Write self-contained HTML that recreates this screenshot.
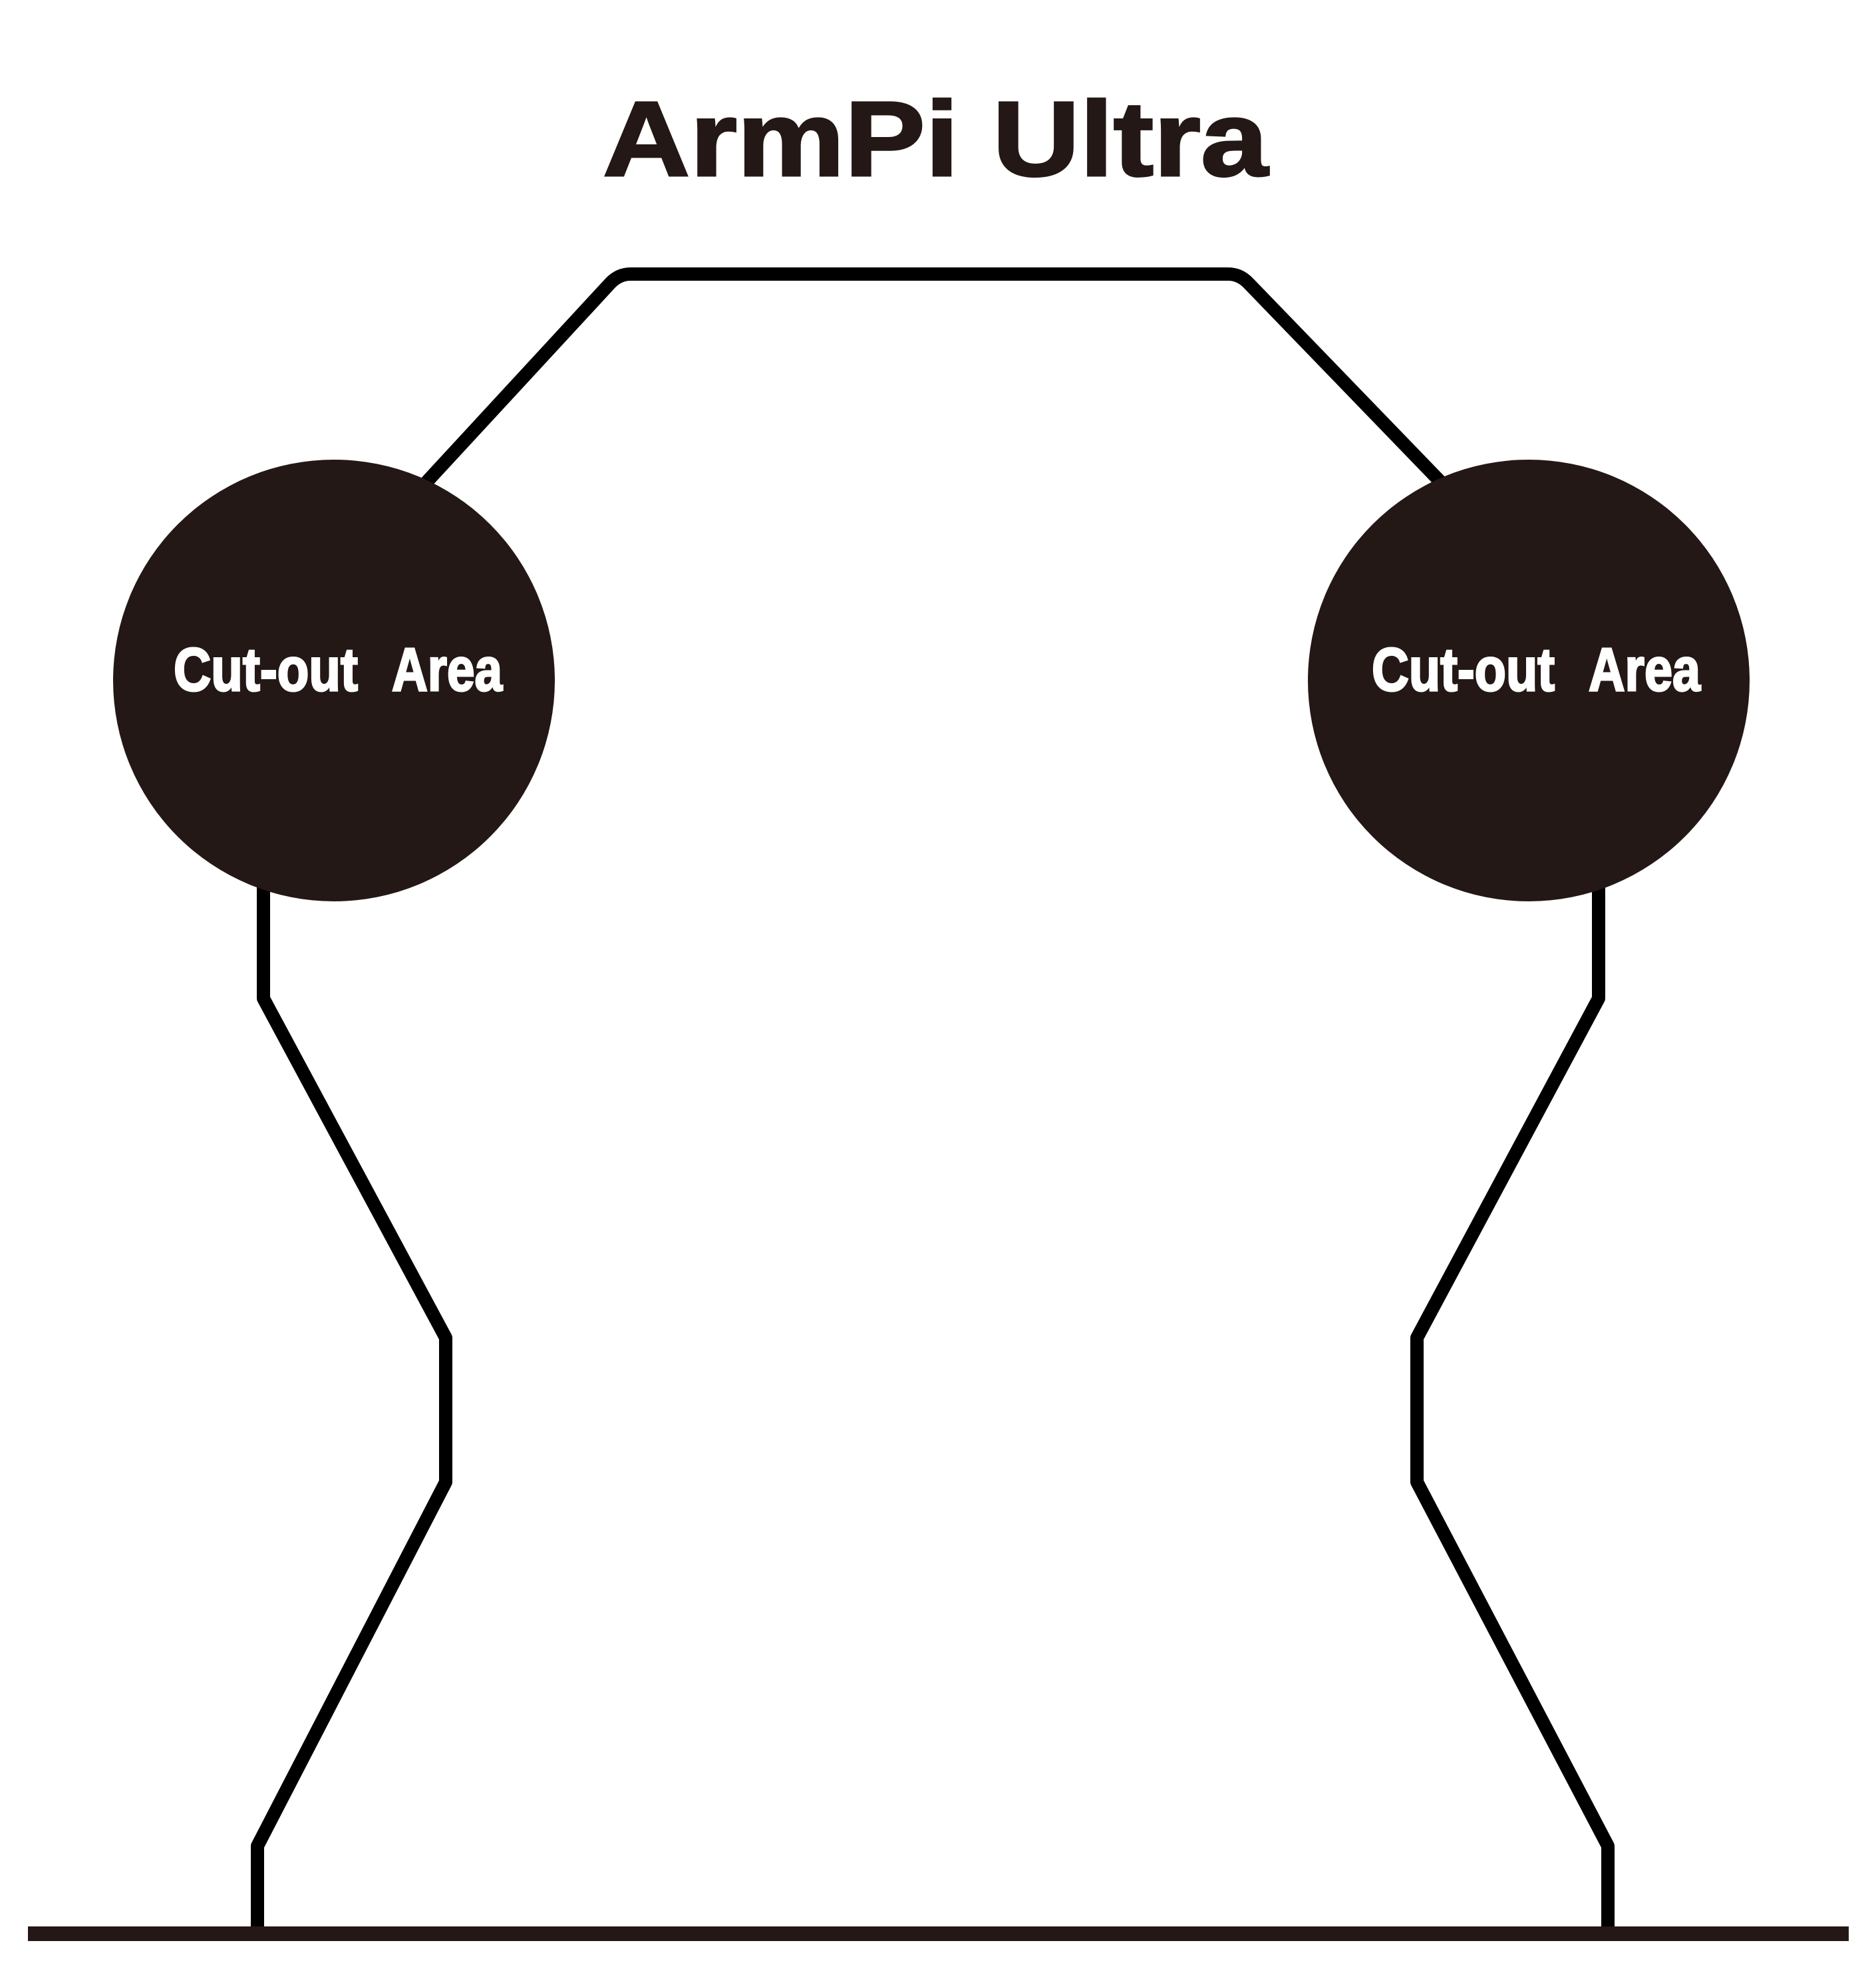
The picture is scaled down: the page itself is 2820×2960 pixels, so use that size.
<!DOCTYPE html>
<html><head><meta charset="utf-8"><style>
html,body{margin:0;padding:0;background:#fff;}
svg{display:block;}
</style></head><body>
<svg width="2820" height="2960" viewBox="0 0 2820 2960" xmlns="http://www.w3.org/2000/svg">
<rect width="2820" height="2960" fill="#fff"/>
<text x="1406" y="264" text-anchor="middle" font-family="Liberation Sans, sans-serif" font-weight="bold" font-size="160" fill="#231815" stroke="#231815" stroke-width="3" textLength="1000" lengthAdjust="spacingAndGlyphs">ArmPi Ultra</text>
<g fill="none" stroke="#000" stroke-width="20" stroke-linejoin="round" stroke-linecap="round">
<path d="M1400 412 L948 412 Q930 412 917 426 L640 726"/>
<path d="M1400 412 L1846 412 Q1864 412 1877 426 L2167 726"/>
<path d="M396 1300 L396 1501 L670 2011 L670 2228 L387 2775 L387 2907"/>
<path d="M2403 1300 L2403 1501 L2130 2011 L2130 2228 L2417 2775 L2417 2907"/>
</g>
<line x1="42" y1="2907" x2="2779" y2="2907" stroke="#231815" stroke-width="22"/>
<circle cx="502" cy="1023" r="332" fill="#231815"/>
<circle cx="2298" cy="1023" r="332" fill="#231815"/>
<g font-family="Liberation Sans Narrow, Liberation Sans, sans-serif" font-weight="bold" font-size="92" fill="#fff" stroke="#fff" stroke-width="3">
<text x="261" y="1038" textLength="277" lengthAdjust="spacingAndGlyphs">Cut-out</text>
<text x="589" y="1038" textLength="166" lengthAdjust="spacingAndGlyphs">Area</text>
<text x="2062" y="1038" textLength="275" lengthAdjust="spacingAndGlyphs">Cut-out</text>
<text x="2388" y="1038" textLength="168" lengthAdjust="spacingAndGlyphs">Area</text>
</g>
</svg>
</body></html>
